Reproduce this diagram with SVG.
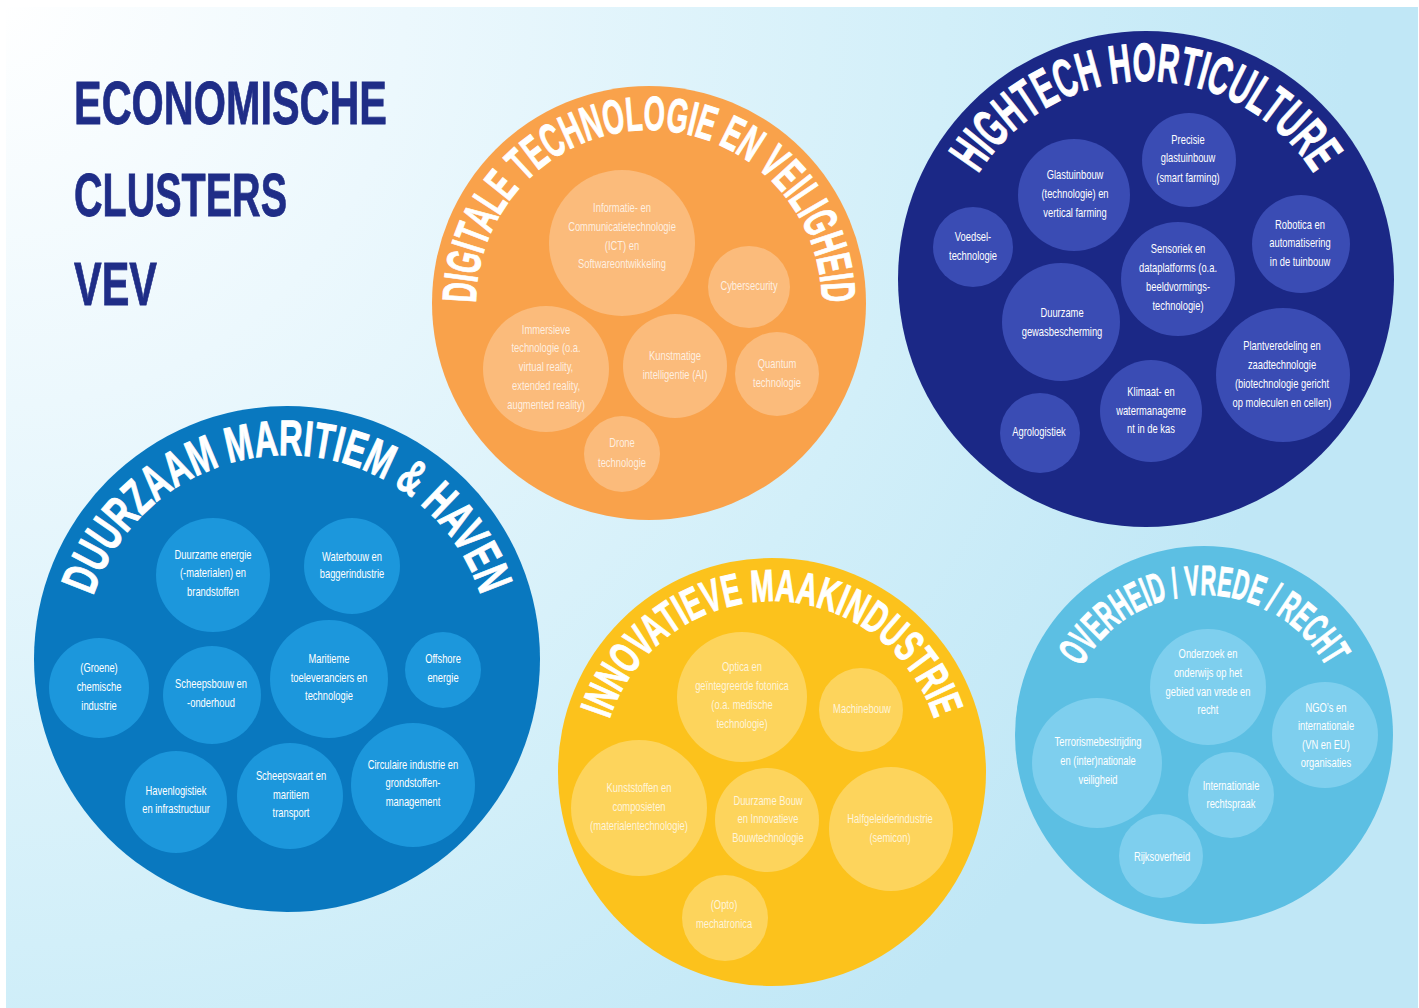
<svg xmlns="http://www.w3.org/2000/svg" width="1419" height="1008" viewBox="0 0 1419 1008">
<defs>
<radialGradient id="bg" gradientUnits="userSpaceOnUse" cx="0" cy="0" r="1350">
<stop offset="0" stop-color="#ffffff"/>
<stop offset="0.3" stop-color="#ecf8fd"/>
<stop offset="0.7" stop-color="#d2eff9"/>
<stop offset="1" stop-color="#c0e7f6"/>
</radialGradient>
<path id="arc-dig" d="M 476 303 A 173 173 0 0 1 822 303"/>
<path id="arc-hort" d="M 978.1 174 A 198 198 0 0 1 1313.9 174"/>
<path id="arc-mar" d="M 93 596 A 204 204 0 0 1 481 596"/>
<path id="arc-maak" d="M 609.4 719.2 A 171 171 0 0 1 934.6 719.2"/>
<path id="arc-ovh" d="M 1081.5 667.1 A 140 140 0 0 1 1326.5 667.1"/>
</defs>
<style>
.head{font-family:"Liberation Sans",Arial,sans-serif;font-weight:bold;fill:#1f2d87;stroke:#1f2d87;stroke-width:0.8}
.ttl{font-family:"Liberation Sans",Arial,sans-serif;font-weight:bold;fill:#ffffff;stroke:#ffffff;stroke-width:1}
.t{font-family:"Liberation Sans",Arial,sans-serif;font-size:12.5px;fill:#ffffff;text-anchor:middle}
.lt{fill-opacity:0.78}
.c-dig{fill:#F9A24B}.s-dig{fill:#FBBB7B}
.c-hort{fill:#1B2886}.s-hort{fill:#3A4CB4}
.c-mar{fill:#0978BF}.s-mar{fill:#1C97DC}
.c-maak{fill:#FCC21C}.s-maak{fill:#FDD45C}
.c-ovh{fill:#5CBFE3}.s-ovh{fill:#7ECFEE}
</style>
<rect x="0" y="0" width="1419" height="1008" fill="#ffffff"/>
<rect x="6" y="7" width="1412" height="1001" fill="url(#bg)"/>

<g id="title">
<text class="head" x="74" y="124" font-size="61" textLength="313" lengthAdjust="spacingAndGlyphs">ECONOMISCHE</text>
<text class="head" x="74" y="216" font-size="61" textLength="213" lengthAdjust="spacingAndGlyphs">CLUSTERS</text>
<text class="head" x="74" y="305" font-size="61" textLength="83" lengthAdjust="spacingAndGlyphs">VEV</text>
</g>

<g id="connectors"/>

<g id="cluster-digitale">
<circle class="c-dig" cx="649" cy="303" r="217"/>
<text class="ttl" font-size="48"><textPath href="#arc-dig" textLength="543" lengthAdjust="spacingAndGlyphs">DIGITALE TECHNOLOGIE EN VEILIGHEID</textPath></text>
<g id="n-ict"><circle class="s-dig" cx="622" cy="243" r="73"/>
<text class="t lt" transform="translate(622 0) scale(0.75 1)"><tspan x="0" y="212">Informatie- en</tspan><tspan x="0" y="231">Communicatietechnologie</tspan><tspan x="0" y="250">(ICT) en</tspan><tspan x="0" y="268">Softwareontwikkeling</tspan></text></g>
<g id="n-cyber"><circle class="s-dig" cx="749" cy="287" r="41"/>
<text class="t lt" transform="translate(749 0) scale(0.75 1)"><tspan x="0" y="290">Cybersecurity</tspan></text></g>
<g id="n-immersieve"><circle class="s-dig" cx="546" cy="369" r="63"/>
<text class="t lt" transform="translate(546 0) scale(0.75 1)"><tspan x="0" y="334">Immersieve</tspan><tspan x="0" y="352">technologie (o.a.</tspan><tspan x="0" y="371">virtual reality,</tspan><tspan x="0" y="390">extended reality,</tspan><tspan x="0" y="409">augmented reality)</tspan></text></g>
<g id="n-ai"><circle class="s-dig" cx="675" cy="366" r="52"/>
<text class="t lt" transform="translate(675 0) scale(0.75 1)"><tspan x="0" y="360">Kunstmatige</tspan><tspan x="0" y="379">intelligentie (AI)</tspan></text></g>
<g id="n-quantum"><circle class="s-dig" cx="777" cy="374" r="42"/>
<text class="t lt" transform="translate(777 0) scale(0.75 1)"><tspan x="0" y="368">Quantum</tspan><tspan x="0" y="387">technologie</tspan></text></g>
<g id="n-drone"><circle class="s-dig" cx="622" cy="454" r="38"/>
<text class="t lt" transform="translate(622 0) scale(0.75 1)"><tspan x="0" y="447">Drone</tspan><tspan x="0" y="467">technologie</tspan></text></g>
</g>

<g id="cluster-hightech">
<circle class="c-hort" cx="1146" cy="279" r="248"/>
<text class="ttl" font-size="54"><textPath href="#arc-hort" textLength="400" lengthAdjust="spacingAndGlyphs">HIGHTECH HORTICULTURE</textPath></text>
<g id="n-precisie"><circle class="s-hort" cx="1189" cy="160" r="47"/>
<text class="t" transform="translate(1188 0) scale(0.75 1)"><tspan x="0" y="144">Precisie</tspan><tspan x="0" y="162">glastuinbouw</tspan><tspan x="0" y="182">(smart farming)</tspan></text></g>
<g id="n-glastuinbouw"><circle class="s-hort" cx="1074" cy="195" r="56"/>
<text class="t" transform="translate(1075 0) scale(0.75 1)"><tspan x="0" y="179">Glastuinbouw</tspan><tspan x="0" y="198">(technologie) en</tspan><tspan x="0" y="217">vertical farming</tspan></text></g>
<g id="n-voedsel"><circle class="s-hort" cx="973" cy="247" r="40"/>
<text class="t" transform="translate(973 0) scale(0.75 1)"><tspan x="0" y="241">Voedsel-</tspan><tspan x="0" y="260">technologie</tspan></text></g>
<g id="n-robotica"><circle class="s-hort" cx="1301" cy="244" r="49"/>
<text class="t" transform="translate(1300 0) scale(0.75 1)"><tspan x="0" y="229">Robotica en</tspan><tspan x="0" y="247">automatisering</tspan><tspan x="0" y="266">in de tuinbouw</tspan></text></g>
<g id="n-sensoriek"><circle class="s-hort" cx="1178" cy="279" r="57"/>
<text class="t" transform="translate(1178 0) scale(0.75 1)"><tspan x="0" y="253">Sensoriek en</tspan><tspan x="0" y="272">dataplatforms (o.a.</tspan><tspan x="0" y="291">beeldvormings-</tspan><tspan x="0" y="310">technologie)</tspan></text></g>
<g id="n-gewasbescherming"><circle class="s-hort" cx="1061" cy="322" r="59"/>
<text class="t" transform="translate(1062 0) scale(0.75 1)"><tspan x="0" y="317">Duurzame</tspan><tspan x="0" y="336">gewasbescherming</tspan></text></g>
<g id="n-plantveredeling"><circle class="s-hort" cx="1283" cy="375" r="67"/>
<text class="t" transform="translate(1282 0) scale(0.75 1)"><tspan x="0" y="350">Plantveredeling en</tspan><tspan x="0" y="369">zaadtechnologie</tspan><tspan x="0" y="388">(biotechnologie gericht</tspan><tspan x="0" y="407">op moleculen en cellen)</tspan></text></g>
<g id="n-klimaat"><circle class="s-hort" cx="1151" cy="411" r="51"/>
<text class="t" transform="translate(1151 0) scale(0.75 1)"><tspan x="0" y="396">Klimaat- en</tspan><tspan x="0" y="415">watermanageme</tspan><tspan x="0" y="433">nt in de kas</tspan></text></g>
<g id="n-agrologistiek"><circle class="s-hort" cx="1040" cy="433" r="40"/>
<text class="t" transform="translate(1039 0) scale(0.75 1)"><tspan x="0" y="436">Agrologistiek</tspan></text></g>
</g>

<g id="cluster-maritiem">
<circle class="c-mar" cx="287" cy="659" r="253"/>
<text class="ttl" font-size="50"><textPath href="#arc-mar" textLength="512" lengthAdjust="spacingAndGlyphs">DUURZAAM MARITIEM &amp; HAVEN</textPath></text>
<g id="n-duurzame-energie"><circle class="s-mar" cx="213" cy="575" r="57"/>
<text class="t" transform="translate(213 0) scale(0.75 1)"><tspan x="0" y="559">Duurzame energie</tspan><tspan x="0" y="577">(-materialen) en</tspan><tspan x="0" y="596">brandstoffen</tspan></text></g>
<g id="n-waterbouw"><circle class="s-mar" cx="352" cy="566" r="48"/>
<text class="t" transform="translate(352 0) scale(0.75 1)"><tspan x="0" y="561">Waterbouw en</tspan><tspan x="0" y="578">baggerindustrie</tspan></text></g>
<g id="n-chemische"><circle class="s-mar" cx="99" cy="688" r="50"/>
<text class="t" transform="translate(99 0) scale(0.75 1)"><tspan x="0" y="672">(Groene)</tspan><tspan x="0" y="691">chemische</tspan><tspan x="0" y="710">industrie</tspan></text></g>
<g id="n-scheepsbouw"><circle class="s-mar" cx="212" cy="695" r="49"/>
<text class="t" transform="translate(211 0) scale(0.75 1)"><tspan x="0" y="688">Scheepsbouw en</tspan><tspan x="0" y="707">-onderhoud</tspan></text></g>
<g id="n-maritieme"><circle class="s-mar" cx="329" cy="679" r="59"/>
<text class="t" transform="translate(329 0) scale(0.75 1)"><tspan x="0" y="663">Maritieme</tspan><tspan x="0" y="682">toeleveranciers en</tspan><tspan x="0" y="700">technologie</tspan></text></g>
<g id="n-offshore"><circle class="s-mar" cx="443" cy="670" r="38"/>
<text class="t" transform="translate(443 0) scale(0.75 1)"><tspan x="0" y="663">Offshore</tspan><tspan x="0" y="682">energie</tspan></text></g>
<g id="n-havenlogistiek"><circle class="s-mar" cx="176" cy="802" r="51"/>
<text class="t" transform="translate(176 0) scale(0.75 1)"><tspan x="0" y="795">Havenlogistiek</tspan><tspan x="0" y="813">en infrastructuur</tspan></text></g>
<g id="n-scheepsvaart"><circle class="s-mar" cx="290" cy="796" r="53"/>
<text class="t" transform="translate(291 0) scale(0.75 1)"><tspan x="0" y="780">Scheepsvaart en</tspan><tspan x="0" y="799">maritiem</tspan><tspan x="0" y="817">transport</tspan></text></g>
<g id="n-circulaire"><circle class="s-mar" cx="413" cy="785" r="62"/>
<text class="t" transform="translate(413 0) scale(0.75 1)"><tspan x="0" y="769">Circulaire industrie en</tspan><tspan x="0" y="787">grondstoffen-</tspan><tspan x="0" y="806">management</tspan></text></g>
</g>

<g id="cluster-maakindustrie">
<circle class="c-maak" cx="772" cy="772" r="214"/>
<text class="ttl" font-size="45"><textPath href="#arc-maak" textLength="429" lengthAdjust="spacingAndGlyphs">INNOVATIEVE MAAKINDUSTRIE</textPath></text>
<g id="n-optica"><circle class="s-maak" cx="742" cy="697" r="65"/>
<text class="t lt" transform="translate(742 0) scale(0.75 1)"><tspan x="0" y="671">Optica en</tspan><tspan x="0" y="690">geïntegreerde fotonica</tspan><tspan x="0" y="709">(o.a. medische</tspan><tspan x="0" y="728">technologie)</tspan></text></g>
<g id="n-machinebouw"><circle class="s-maak" cx="861" cy="710" r="42"/>
<text class="t lt" transform="translate(862 0) scale(0.75 1)"><tspan x="0" y="713">Machinebouw</tspan></text></g>
<g id="n-kunststoffen"><circle class="s-maak" cx="639" cy="808" r="68"/>
<text class="t lt" transform="translate(639 0) scale(0.75 1)"><tspan x="0" y="792">Kunststoffen en</tspan><tspan x="0" y="811">composieten</tspan><tspan x="0" y="830">(materialentechnologie)</tspan></text></g>
<g id="n-bouw"><circle class="s-maak" cx="767" cy="820" r="52"/>
<text class="t lt" transform="translate(768 0) scale(0.75 1)"><tspan x="0" y="805">Duurzame Bouw</tspan><tspan x="0" y="823">en Innovatieve</tspan><tspan x="0" y="842">Bouwtechnologie</tspan></text></g>
<g id="n-halfgeleider"><circle class="s-maak" cx="891" cy="829" r="62"/>
<text class="t lt" transform="translate(890 0) scale(0.75 1)"><tspan x="0" y="823">Halfgeleiderindustrie</tspan><tspan x="0" y="842">(semicon)</tspan></text></g>
<g id="n-mechatronica"><circle class="s-maak" cx="725" cy="918" r="43"/>
<text class="t lt" transform="translate(724 0) scale(0.75 1)"><tspan x="0" y="909">(Opto)</tspan><tspan x="0" y="928">mechatronica</tspan></text></g>
</g>

<g id="cluster-overheid">
<circle class="c-ovh" cx="1204" cy="735" r="189"/>
<text class="ttl" font-size="42"><textPath href="#arc-ovh" textLength="298" lengthAdjust="spacingAndGlyphs">OVERHEID / VREDE / RECHT</textPath></text>
<g id="n-onderzoek"><circle class="s-ovh" cx="1208" cy="687" r="58"/>
<text class="t" transform="translate(1208 0) scale(0.75 1)"><tspan x="0" y="658">Onderzoek en</tspan><tspan x="0" y="677">onderwijs op het</tspan><tspan x="0" y="696">gebied van vrede en</tspan><tspan x="0" y="714">recht</tspan></text></g>
<g id="n-ngo"><circle class="s-ovh" cx="1325" cy="735" r="53"/>
<text class="t" transform="translate(1326 0) scale(0.75 1)"><tspan x="0" y="712">NGO’s en</tspan><tspan x="0" y="730">internationale</tspan><tspan x="0" y="749">(VN en EU)</tspan><tspan x="0" y="767">organisaties</tspan></text></g>
<g id="n-terrorisme"><circle class="s-ovh" cx="1097" cy="763" r="65"/>
<text class="t" transform="translate(1098 0) scale(0.75 1)"><tspan x="0" y="746">Terrorismebestrijding</tspan><tspan x="0" y="765">en (inter)nationale</tspan><tspan x="0" y="784">veiligheid</tspan></text></g>
<g id="n-rechtspraak"><circle class="s-ovh" cx="1231" cy="795" r="43"/>
<text class="t" transform="translate(1231 0) scale(0.75 1)"><tspan x="0" y="790">Internationale</tspan><tspan x="0" y="808">rechtspraak</tspan></text></g>
<g id="n-rijksoverheid"><circle class="s-ovh" cx="1161" cy="856" r="42"/>
<text class="t" transform="translate(1162 0) scale(0.75 1)"><tspan x="0" y="861">Rijksoverheid</tspan></text></g>
</g>
</svg>
